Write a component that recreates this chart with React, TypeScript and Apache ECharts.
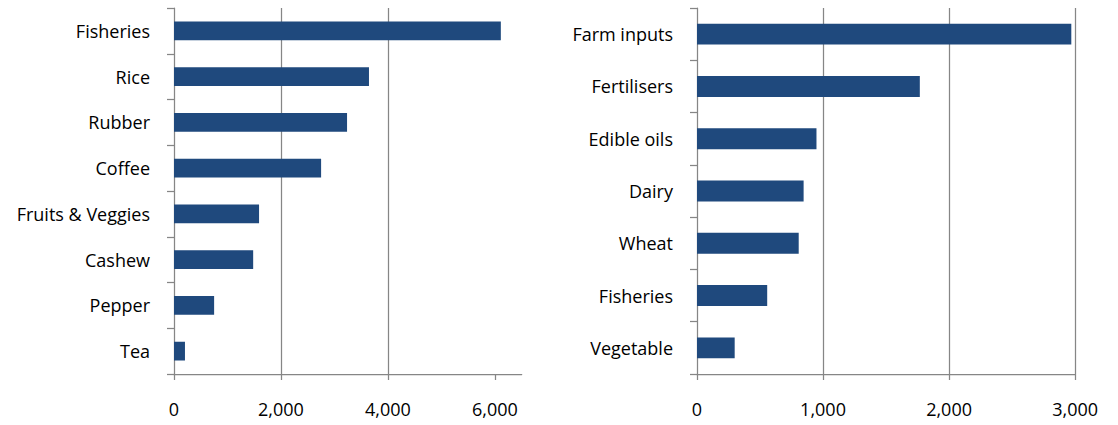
import React, { useEffect, useRef } from "react";
import * as echarts from "echarts";

// Left panel: exports by product
const exportCategories = [
  "Fisheries",
  "Rice",
  "Rubber",
  "Coffee",
  "Fruits & Veggies",
  "Cashew",
  "Pepper",
  "Tea",
];
const exportValues = [6110, 3645, 3235, 2750, 1590, 1480, 750, 205];
const exportTicks = [0, 2000, 4000, 6000];

// Right panel: imports by product
const importCategories = [
  "Farm inputs",
  "Fertilisers",
  "Edible oils",
  "Dairy",
  "Wheat",
  "Fisheries",
  "Vegetable",
];
const importValues = [2970, 1768, 948, 846, 807, 557, 299];
const importTicks = [0, 1000, 2000, 3000];

const BAR = "#1F497D";
const LINE = "#868686";
const FONT = "'Open Sans', Lato, sans-serif";

function fmt(v: number) {
  return v.toLocaleString("en-US");
}

function panel(
  idx: number,
  cats: string[],
  vals: number[],
  ticks: number[],
  max: number,
  interval: number,
  barWidth: string
) {
  const xAxis = {
    type: "value",
    gridIndex: idx,
    min: 0,
    max,
    interval,
    axisLine: { show: true, lineStyle: { color: LINE, width: 1.25 } },
    axisTick: {
      show: true,
      length: 6,
      customValues: ticks,
      lineStyle: { color: LINE, width: 1.25 },
    },
    splitLine: {
      show: true,
      showMinLine: false,
      showMaxLine: max === ticks[ticks.length - 1],
      lineStyle: { color: LINE, width: 1.25 },
    },
    axisLabel: {
      customValues: ticks,
      formatter: (v: number) => fmt(v),
      color: "#000",
      fontFamily: FONT,
      fontSize: 18,
      margin: 26,
      showMaxLabel: true,
    },
  };
  const yAxis = {
    type: "category",
    gridIndex: idx,
    data: cats,
    inverse: true,
    axisLine: { show: true, lineStyle: { color: LINE, width: 1.25 } },
    axisTick: { show: true, length: 7, lineStyle: { color: LINE, width: 1.25 } },
    axisLabel: {
      color: "#000",
      fontFamily: FONT,
      fontSize: 18,
      margin: 24,
    },
    splitLine: { show: false },
  };
  const series = {
    type: "bar",
    xAxisIndex: idx,
    yAxisIndex: idx,
    data: vals,
    barWidth,
    itemStyle: { color: BAR },
  };
  return { xAxis, yAxis, series };
}

export default function App() {
  const ref = useRef<HTMLDivElement>(null);

  useEffect(() => {
    if (!ref.current) return;
    const chart = echarts.init(ref.current, undefined, { renderer: "svg" });
    const left = panel(0, exportCategories, exportValues, exportTicks, 6500, 2000, "41%");
    const right = panel(1, importCategories, importValues, importTicks, 3000, 1000, "40%");
    chart.setOption({
      animation: false,
      backgroundColor: "#ffffff",
      grid: [
        { left: 174, top: 8, width: 347.7, height: 366 },
        { left: 697, top: 8, width: 383, height: 366 },
      ],
      xAxis: [left.xAxis, right.xAxis],
      yAxis: [left.yAxis, right.yAxis],
      series: [left.series, right.series],
    });
    return () => chart.dispose();
  }, []);

  return (
    <div
      ref={ref}
      style={{
        position: "absolute",
        left: 0,
        top: 0,
        width: 1101,
        height: 425,
        overflow: "hidden",
        background: "#fff",
      }}
    />
  );
}
